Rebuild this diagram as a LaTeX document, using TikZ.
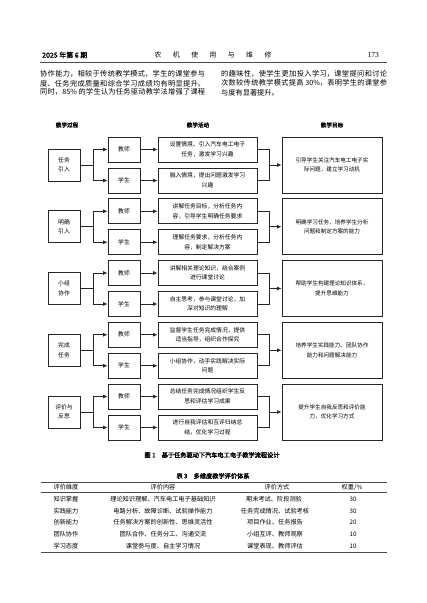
\documentclass[tikz,border=0pt]{standalone}
\usepackage{fontspec}
\setmainfont{Noto Sans CJK SC}[AutoFakeBold=2]
\newfontfamily\numserif{Liberation Serif}
\usetikzlibrary{arrows.meta}
\XeTeXlinebreaklocale "zh"
\XeTeXlinebreakskip=0pt plus 2pt
\newcommand{\jline}[2]{\parbox{#1}{\parfillskip=0pt #2}}
\tikzset{
  box/.style={draw=black!85, line width=0.8pt, align=center, inner sep=0pt},
  stagebox/.style={box, minimum width=32pt, minimum height=32pt, font=\fontsize{5.8}{9.5}\selectfont},
  rolebox/.style={box, minimum width=32pt, minimum height=25pt, font=\fontsize{5.8}{9.5}\selectfont},
  actbox/.style={box, minimum width=99pt, minimum height=25pt, font=\fontsize{5.8}{9.5}\selectfont},
  goalbox/.style={box, minimum width=100pt, minimum height=56pt, font=\fontsize{5.6}{9.5}\selectfont},
  conn/.style={line width=0.8pt, draw=black!85},
  arr/.style={conn, -{Latex[length=4.5pt,width=4pt]}},
  colhead/.style={font=\fontsize{5.6}{7}\selectfont\bfseries, inner sep=0pt},
  bodytext/.style={anchor=west, inner sep=0pt, font=\fontsize{7.2}{9}\selectfont},
  tabtext/.style={inner sep=0pt, font=\fontsize{6.2}{7}\selectfont},
  captext/.style={inner sep=0pt, font=\fontsize{6.2}{7}\selectfont\bfseries},
  rule/.style={line width=#1, draw=black!70},
}
\begin{document}
\begin{tikzpicture}[x=1pt,y=-1pt]
\useasboundingbox (0,0) rectangle (427,603);
\fill[white] (0,0) rectangle (427,603);

% page header
\node[anchor=west, inner sep=0pt, font=\fontsize{7}{8}\selectfont\bfseries] (hdl) at (42,55) {2025 年第 6 期};
\node[inner sep=0pt, font=\fontsize{6.8}{8}\selectfont] (hdc) at (213,55) {农\hspace{11.5pt}机\hspace{11.5pt}使\hspace{11.5pt}用\hspace{11.5pt}与\hspace{11.5pt}维\hspace{11.5pt}修};
\node[anchor=east, inner sep=0pt, font=\fontsize{7.5}{8}\selectfont\numserif] (hdr) at (379,55) {173};
\draw[rule=0.6pt] (40,62.7) -- (387,62.7);

% body text
\node[bodytext] (l1) at (40,74.3) {\jline{165pt}{协作能力，相较于传统教学模式，学生的课堂参与}};
\node[bodytext] (l2) at (40,83.3) {\jline{165pt}{度、任务完成质量和综合学习成绩均有明显提升。}};
\node[bodytext] (l3) at (40,92.3) {\jline{165pt}{同时，85\% 的学生认为任务驱动教学法增强了课程}};
\node[bodytext] (r1) at (221,74.3) {\jline{166pt}{的趣味性，使学生更加投入学习，课堂提问和讨论}};
\node[bodytext] (r2) at (221,83.3) {\jline{166pt}{次数较传统教学模式提高 30\%，表明学生的课堂参}};
\node[bodytext] (r3) at (221,92.3) {与度有显著提升。};

% column headers
\node[colhead] (h1) at (67,125) {教学过程};
\node[colhead] (h2) at (198,125) {教学活动};
\node[colhead] (h3) at (332,125) {教学目标};

% row 1
\node[stagebox] (s1) at (64,165) {任务\\引入};
\node[rolebox] (t1) at (124,149.5) {教师};
\node[rolebox] (u1) at (124,180.5) {学生};
\node[actbox] (a1) at (207.5,149.5) {设置情境、引入汽车电工电子\\任务，激发学习兴趣};
\node[actbox] (b1) at (207.5,180.5) {融入情境，提出问题激发学习\\兴趣};
\node[goalbox] (g1) at (332,165) {引导学生关注汽车电工电子实\\际问题，建立学习动机};

% row 2
\node[stagebox] (s2) at (64,226.75) {明确\\引入};
\node[rolebox] (t2) at (124,211.25) {教师};
\node[rolebox] (u2) at (124,242.25) {学生};
\node[actbox] (a2) at (207.5,211.25) {讲解任务目标，分析任务内\\容，引导学生明确任务要求};
\node[actbox] (b2) at (207.5,242.25) {理解任务要求，分析任务内\\容，制定解决方案};
\node[goalbox] (g2) at (332,226.75) {明确学习任务，培养学生分析\\问题和制定方案的能力};

% row 3
\node[stagebox] (s3) at (64,288.5) {小组\\协作};
\node[rolebox] (t3) at (124,273) {教师};
\node[rolebox] (u3) at (124,304) {学生};
\node[actbox] (a3) at (207.5,273) {讲解相关理论知识，结合案例\\进行课堂讨论};
\node[actbox] (b3) at (207.5,304) {自主思考，参与课堂讨论，加\\深对知识的理解};
\node[goalbox] (g3) at (332,288.5) {帮助学生构建理论知识体系，\\提升思维能力};

% row 4
\node[stagebox] (s4) at (64,350.25) {完成\\任务};
\node[rolebox] (t4) at (124,334.75) {教师};
\node[rolebox] (u4) at (124,365.75) {学生};
\node[actbox] (a4) at (207.5,334.75) {监督学生任务完成情况，提供\\适当指导，组织合作探究};
\node[actbox] (b4) at (207.5,365.75) {小组协作，动手实践解决实际\\问题};
\node[goalbox] (g4) at (332,350.25) {培养学生实践能力、团队协作\\能力和问题解决能力};

% row 5
\node[stagebox] (s5) at (64,412) {评价与\\反思};
\node[rolebox] (t5) at (124,396.5) {教师};
\node[rolebox] (u5) at (124,427.5) {学生};
\node[actbox] (a5) at (207.5,396.5) {总结任务完成情况组织学生反\\思和评估学习成果};
\node[actbox] (b5) at (207.5,427.5) {进行自我评估和互评归纳总\\结，优化学习过程};
\node[goalbox] (g5) at (332,412) {提升学生自我反思和评价能\\力，优化学习方式};

% connectors
\foreach \i in {1,...,5}{
  \path (s\i.east) -- ++(13,0) coordinate (j\i);
  \path (g\i.west) -- ++(-12,0) coordinate (k\i);
  \draw[conn] (s\i.east) -- (j\i);
  \draw[arr] (j\i) |- (t\i.west);
  \draw[arr] (j\i) |- (u\i.west);
  \draw[arr] (t\i) -- (a\i);
  \draw[arr] (u\i) -- (b\i);
  \draw[conn] (a\i.east) -| (k\i);
  \draw[conn] (b\i.east) -| (k\i);
  \draw[arr] (k\i) -- (g\i.west);
}

% figure caption
\node[captext] (fc) at (212,455) {图 1\quad 基于任务驱动下汽车电工电子教学流程设计};

% table
\node[captext] (tc) at (213,476) {表 3\quad 多维度教学评价体系};
\draw[rule=0.8pt] (41,482) -- (387,482);
\draw[rule=0.4pt] (41,492.5) -- (387,492.5);
\draw[rule=0.8pt] (41,552) -- (387,552);

\node[tabtext] (th1) at (66,487) {评价维度};
\node[tabtext] (th2) at (163,487) {评价内容};
\node[tabtext] (th3) at (277,487) {评价方式};
\node[tabtext] (th4) at (352,487) {权重/\%};

\node[tabtext] (c11) at (66,499) {知识掌握};
\node[tabtext] (c12) at (163,499) {理论知识理解、汽车电工电子基础知识};
\node[tabtext] (c13) at (274,499) {期末考试、阶段测验};
\node[tabtext] (c14) at (353,499) {30};

\node[tabtext] (c21) at (66,511) {实践能力};
\node[tabtext] (c22) at (163,511) {电路分析、故障诊断、试验操作能力};
\node[tabtext] (c23) at (275,511) {任务完成情况、试验考核};
\node[tabtext] (c24) at (353,511) {30};

\node[tabtext] (c31) at (66,522.5) {创新能力};
\node[tabtext] (c32) at (163,522.5) {任务解决方案的创新性、思维灵活性};
\node[tabtext] (c33) at (275,522.5) {项目作业、任务报告};
\node[tabtext] (c34) at (353,522.5) {20};

\node[tabtext] (c41) at (66,534) {团队协作};
\node[tabtext] (c42) at (163,534) {团队合作、任务分工、沟通交流};
\node[tabtext] (c43) at (275,534) {小组互评、教师观察};
\node[tabtext] (c44) at (353,534) {10};

\node[tabtext] (c51) at (66,546) {学习态度};
\node[tabtext] (c52) at (163,546) {课堂参与度、自主学习情况};
\node[tabtext] (c53) at (275,546) {课堂表现、教师评估};
\node[tabtext] (c54) at (353,546) {10};
\end{tikzpicture}
\end{document}
